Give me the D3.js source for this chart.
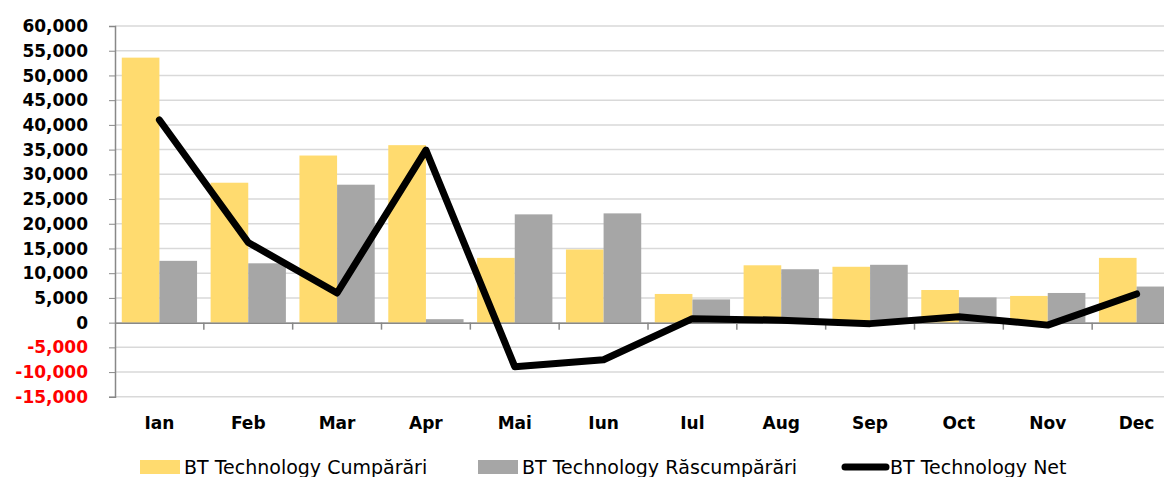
<!DOCTYPE html>
<html>
<head>
<meta charset="utf-8">
<script src="https://cdn.jsdelivr.net/npm/d3@7"></script>
<style>
  body { margin: 0; background: #fff; }
  svg { display: block; font-family: 'DejaVu Sans', sans-serif; }
  .grid line { stroke: #d9d9d9; stroke-width: 1.5; }
  .axis path, .axis line { stroke: #888; }
  .ylab { font-size: 17px; font-weight: bold; }
  .xlab { font-size: 17px; font-weight: bold; }
  .legend text { font-size: 19px; }
</style>
</head>
<body>
<svg id="chart" width="1164" height="477"></svg>
<script>
const months = ['Ian', 'Feb', 'Mar', 'Apr', 'Mai', 'Iun', 'Iul', 'Aug', 'Sep', 'Oct', 'Nov', 'Dec'];
const cumparari = [53600, 28300, 33800, 35900, 13100, 14800, 5800, 11600, 11300, 6600, 5400, 13100];
const rascumparari = [12500, 12000, 27900, 700, 21900, 22100, 4700, 10800, 11700, 5100, 6000, 7300];
const net = [41000, 16200, 6000, 34900, -8900, -7500, 800, 500, -200, 1200, -500, 5800];
const yTicks = d3.range(-15000, 60001, 5000);
const seriesNames = ['BT Technology Cumpărări', 'BT Technology Răscumpărări', 'BT Technology Net'];
const colors = ['#ffdb6f', '#a6a6a6', '#000000'];

const svg = d3.select('#chart');
// hyphen minus like the original, not the unicode one
const fmt = d3.formatLocale({ decimal: '.', thousands: ',', grouping: [3], currency: ['', ''], minus: '-' }).format(',');

// plot area (runs past the right edge, as in the original)
const left = 115;
const right = 1181;
const y = d3.scaleLinear().domain([-15000, 60000]).range([396.8, 26]);
const x = d3.scaleBand().domain(months).range([left, right]);
const xInner = d3.scaleBand().domain([0, 1]).range([0, x.bandwidth()]).paddingOuter(0.18);

// grid lines
svg.append('g')
  .attr('class', 'grid')
  .selectAll('line')
  .data(yTicks)
  .join('line')
  .attr('x1', left)
  .attr('x2', 1164)
  .attr('y1', d => y(d))
  .attr('y2', d => y(d));

// bars
const series = [cumparari, rascumparari];
series.forEach((vals, si) => {
  svg.append('g')
    .selectAll('rect')
    .data(vals)
    .join('rect')
    .attr('x', (d, i) => x(months[i]) + xInner(si))
    .attr('width', xInner.bandwidth())
    .attr('y', d => y(Math.max(0, d)))
    .attr('height', d => Math.abs(y(d) - y(0)))
    .attr('fill', colors[si]);
});

// y axis
const yAxis = svg.append('g')
  .attr('class', 'axis')
  .attr('transform', `translate(${left},0)`)
  .call(d3.axisLeft(y).tickValues(yTicks).tickSize(6).tickFormat(''));
yAxis.select('.domain').attr('stroke-width', 1.5);

svg.append('g')
  .selectAll('text')
  .data(yTicks)
  .join('text')
  .attr('class', 'ylab')
  .attr('x', 88)
  .attr('y', d => y(d))
  .attr('dy', '0.36em')
  .attr('text-anchor', 'end')
  .attr('fill', d => d < 0 ? '#ff0000' : '#000')
  .text(d => fmt(d));

// x axis at zero
const xAxis = svg.append('g')
  .attr('class', 'axis')
  .attr('transform', `translate(0,${y(0)})`)
  .call(d3.axisBottom(x).tickSize(0).tickFormat(''));
xAxis.select('.domain').attr('stroke-width', 1.5);
xAxis.selectAll('.bound')
  .data(months.slice(1))
  .join('line')
  .attr('class', 'bound')
  .attr('x1', d => x(d))
  .attr('x2', d => x(d))
  .attr('y1', 0)
  .attr('y2', 7)
  .attr('stroke', '#888')
  .attr('stroke-width', 1.5);

svg.append('g')
  .selectAll('text')
  .data(months)
  .join('text')
  .attr('class', 'xlab')
  .attr('x', d => x(d) + x.bandwidth() / 2)
  .attr('y', 429)
  .attr('text-anchor', 'middle')
  .text(d => d);

// net line
const line = d3.line()
  .x((d, i) => x(months[i]) + x.bandwidth() / 2)
  .y(d => y(d));
svg.append('path')
  .datum(net)
  .attr('d', line)
  .attr('fill', 'none')
  .attr('stroke', '#000')
  .attr('stroke-width', 7)
  .attr('stroke-linejoin', 'round')
  .attr('stroke-linecap', 'round');

// legend
const legend = svg.append('g').attr('class', 'legend');
const legX = [140, 478, 842];
seriesNames.forEach((name, i) => {
  const g = legend.append('g').attr('transform', `translate(${legX[i]},467)`);
  if (i < 2) {
    g.append('rect').attr('x', 0).attr('y', -7).attr('width', 40).attr('height', 14).attr('fill', colors[i]);
  } else {
    g.append('line').attr('x1', 3).attr('x2', 44).attr('y1', 0).attr('y2', 0)
      .attr('stroke', '#000').attr('stroke-width', 7).attr('stroke-linecap', 'round');
  }
  g.append('text')
    .attr('x', i < 2 ? 44 : 48)
    .attr('y', 0)
    .attr('dy', '0.36em')
    .text(name);
});
</script>
</body>
</html>
